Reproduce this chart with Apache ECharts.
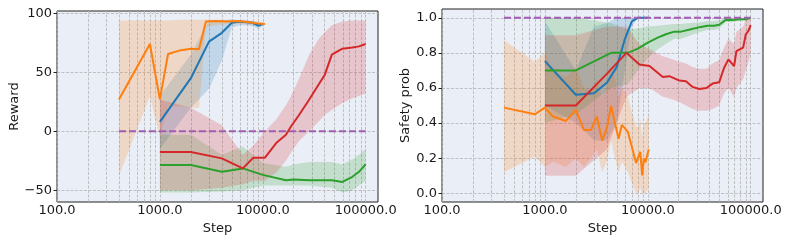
<!DOCTYPE html>
<html><head><meta charset="utf-8">
<script src="https://cdn.jsdelivr.net/npm/echarts@6/dist/echarts.min.js"></script>
<style>html,body{margin:0;padding:0;background:#fff}#c{width:793px;height:243px}</style>
</head><body><div id="c"></div>
<script>
// ---------- tick positions ----------
const xMajorTicks = [100, 1000, 10000, 100000];
const xMinorTicks = [200, 300, 400, 500, 600, 700, 800, 900,
  2000, 3000, 4000, 5000, 6000, 7000, 8000, 9000,
  20000, 30000, 40000, 50000, 60000, 70000, 80000, 90000];
const rewardTicks = [-50, 0, 50, 100];
const safetyTicks = [0, 0.2, 0.4, 0.6, 0.8, 1.0];

// ---------- Reward panel ----------
const stepsBlue = [1000, 2000, 3000, 4000, 5000, 6000, 7000, 8000, 9000, 10000];
const rewardBlue = [8, 45, 76, 83.5, 92, 93, 92.5, 92, 89.5, 91];
const rewardBlueLo = [-15, 20, 36, 60, 88, 90, 90, 89, 87, 89];
const rewardBlueHi = [30, 65, 94, 94, 95, 94, 94, 93.5, 92, 92];

const stepsOrangeR = [400, 800, 1000, 1200, 1600, 2000, 2400, 2800, 3500, 4500, 5500, 6500, 8000, 9000, 10500];
const rewardOrange = [27, 74, 27, 65.5, 68.8, 70, 69.6, 93, 93.5, 93, 93.5, 93, 92, 91.5, 91];
const rewardOrangeLo = [-38, 30, -5, 21, 21, 20, 20, 88, 90, 91, 91, 91, 90, 90, 90];
const rewardOrangeHi = [94, 94, 94, 94, 94.5, 94.5, 94.5, 94.5, 94.5, 94.5, 94, 94, 93.5, 93, 92];

const stepsGreenR = [1000, 2000, 4000, 6400, 10000, 16800, 20000, 28300, 47000, 59400, 74300, 86100, 100000];
const rewardGreen = [-28.7, -28.7, -34.4, -31.5, -37, -41.5, -41, -41.5, -41.5, -43, -38.6, -34.4, -28];
const rewardGreenLo = [-52, -52, -51, -50, -46, -46, -46, -46, -48, -52, -50, -46, -42];
const rewardGreenHi = [-3, -3, -20, -13, -27, -30, -28, -26, -26, -28, -24, -20, -15];

const stepsRedR = [1000, 2000, 4000, 6400, 8100, 10500, 13500, 16800, 18800, 22600, 28300, 34800, 40100, 46900, 59400, 74300, 86100, 100000];
const rewardRed = [-17.6, -17.6, -23, -31.5, -22.4, -22.4, -10, -3, 4, 14, 27, 39.5, 48, 65, 70, 71, 72, 74];
const rewardRedLo = [-50, -50, -48, -45, -42, -42, -35, -25, -18, -8, 0, 8, 14, 18, 24, 28, 30, 32];
const rewardRedHi = [27, 20, 5, -20, -12, 0, 10, 22, 30, 45, 65, 78, 84, 90, 93, 94, 94, 94];

const stepsThreshold = [400, 100000];
const rewardThreshold = [0, 0];

// ---------- Safety panel ----------
const safetyBlue = [0.753, 0.561, 0.57, 0.63, 0.72, 0.88, 0.98, 1.0, 1.0, 1.0];
const safetyBlueLo = [0.5, 0.4, 0.3, 0.3, 0.4, 0.7, 0.95, 1.0, 1.0, 1.0];
const safetyBlueHi = [0.98, 0.7, 0.95, 0.97, 1.0, 1.0, 1.0, 1.0, 1.0, 1.0];

const stepsOrangeS = [400, 800, 1000, 1200, 1600, 2000, 2400, 2800, 3200, 3600, 4000, 4400, 4800, 5200, 5600, 6000, 6400, 7100, 7700, 8000, 8450, 8830, 9150, 9500, 10230];
const safetyOrange = [0.488, 0.45, 0.488, 0.437, 0.412, 0.475, 0.36, 0.36, 0.437, 0.3, 0.37, 0.498, 0.4, 0.31, 0.39, 0.37, 0.35, 0.25, 0.172, 0.175, 0.236, 0.102, 0.198, 0.176, 0.25];
const safetyOrangeLo = [0.12, 0.21, 0.15, 0.18, 0.15, 0.2, 0.15, 0.2, 0.25, 0.12, 0.18, 0.3, 0.2, 0.12, 0.18, 0.15, 0.12, 0.05, 0.0, 0.0, 0.03, 0.0, 0.0, 0.0, 0.03];
const safetyOrangeHi = [0.87, 0.75, 0.8, 0.7, 0.66, 0.72, 0.6, 0.58, 0.65, 0.55, 0.6, 0.72, 0.65, 0.55, 0.6, 0.58, 0.55, 0.45, 0.38, 0.38, 0.42, 0.32, 0.4, 0.4, 0.45];

const stepsGreenS = [1000, 2000, 4400, 6400, 8000, 10000, 12500, 15000, 18100, 21000, 26300, 32800, 38100, 44200, 49400, 57300, 64000, 80000, 91400, 100000];
const safetyGreen = [0.7, 0.7, 0.8, 0.8, 0.824, 0.858, 0.887, 0.906, 0.921, 0.921, 0.935, 0.948, 0.954, 0.954, 0.96, 0.988, 0.988, 0.992, 0.992, 1.0];
const safetyGreenLo = [0.4, 0.45, 0.6, 0.62, 0.7, 0.77, 0.82, 0.85, 0.88, 0.88, 0.9, 0.92, 0.93, 0.93, 0.94, 0.975, 0.975, 0.985, 0.985, 0.995];
const safetyGreenHi = [1.0, 1.0, 0.97, 0.93, 0.94, 0.95, 0.955, 0.96, 0.965, 0.965, 0.97, 0.975, 0.98, 0.98, 0.985, 1.0, 1.0, 1.0, 1.0, 1.0];

const stepsRedS = [1000, 2000, 4000, 6200, 8300, 10400, 14000, 16200, 20300, 23500, 27300, 31600, 37200, 42600, 49400, 55200, 60800, 69000, 72700, 84500, 89700, 95100, 100000];
const safetyRed = [0.5, 0.5, 0.68, 0.8, 0.734, 0.725, 0.663, 0.667, 0.642, 0.638, 0.606, 0.594, 0.6, 0.625, 0.632, 0.715, 0.763, 0.724, 0.81, 0.83, 0.906, 0.925, 0.958];
const safetyRedLo = [0.1, 0.1, 0.25, 0.55, 0.6, 0.6, 0.55, 0.54, 0.52, 0.5, 0.48, 0.47, 0.47, 0.48, 0.5, 0.57, 0.6, 0.55, 0.6, 0.65, 0.7, 0.75, 0.8];
const safetyRedHi = [0.9, 0.9, 0.95, 0.95, 0.85, 0.82, 0.78, 0.77, 0.75, 0.74, 0.72, 0.71, 0.71, 0.74, 0.76, 0.83, 0.88, 0.85, 0.92, 0.95, 0.99, 1.0, 1.0];

const safetyThreshold = [1.0, 1.0];

// ---------- styling ----------
const C = { blue: '#1f77b4', orange: '#ff7f0e', green: '#2ca02c', red: '#d62728', purple: '#a15cb3' };
const FONT = 'DejaVu Sans';
const TXT = '#1a1a1a';

function pairs(xs, ys) { return xs.map((x, i) => [x, ys[i]]); }

function band(xs, lo, hi, color, gi) {
  return {
    type: 'custom', xAxisIndex: gi, yAxisIndex: gi, silent: true, z: 2,
    data: xs.map((x, i) => [x, lo[i], hi[i]]),
    encode: { x: 0, y: [1, 2] },
    renderItem: function (params, api) {
      if (params.dataIndex !== 0) return null;
      const top = xs.map((x, i) => api.coord([x, hi[i]]));
      const bot = xs.map((x, i) => api.coord([x, lo[i]])).reverse();
      return { type: 'polygon', shape: { points: top.concat(bot) },
        style: { fill: color, opacity: 0.2 } };
    }
  };
}
function line(xs, ys, color, gi, dashed) {
  return {
    type: 'line', xAxisIndex: gi, yAxisIndex: gi, data: pairs(xs, ys), symbol: 'none',
    silent: true, z: 3,
    lineStyle: { color, width: 2, type: dashed ? [7, 3] : 'solid' }
  };
}
function gridLines(gi, yTicks) {
  return {
    type: 'line', xAxisIndex: gi, yAxisIndex: gi, data: pairs(stepsThreshold, gi === 0 ? rewardThreshold : safetyThreshold),
    symbol: 'none', lineStyle: { opacity: 0 }, silent: true, z: 1,
    markLine: {
      silent: true, z: 1, symbol: ['none', 'none'], label: { show: false }, animation: false,
      lineStyle: { color: '#b4b4b4', type: [3, 1.5], width: 0.8 },
      data: xMajorTicks.concat(xMinorTicks).map(v => ({ xAxis: v })).concat(yTicks.map(v => ({ yAxis: v })))
    }
  };
}
function xAxis(gi) {
  return {
    type: 'log', logBase: 10, gridIndex: gi, min: 100, max: 131800,
    name: 'Step', nameLocation: 'middle', nameGap: 12,
    nameTextStyle: { fontFamily: FONT, fontSize: 13, color: TXT },
    axisLine: { show: false }, axisTick: { show: false }, splitLine: { show: false },
    axisLabel: { fontFamily: FONT, fontSize: 13, color: TXT, margin: 2, showMaxLabel: false,
      formatter: v => Math.round(v).toFixed(1) }
  };
}
function yAxis(gi, min, max, ticks, name, gap, fmt) {
  return {
    type: 'value', gridIndex: gi, min, max,
    name, nameLocation: 'middle', nameGap: gap,
    nameTextStyle: { fontFamily: FONT, fontSize: 13, color: TXT },
    axisLine: { show: false }, splitLine: { show: false },
    axisTick: { show: true, length: 3.5, lineStyle: { color: '#222', width: 1 }, customValues: ticks },
    axisLabel: { fontFamily: FONT, fontSize: 13, color: TXT, margin: 5, customValues: ticks, formatter: fmt }
  };
}

const chart = echarts.init(document.getElementById('c'), null, { renderer: 'canvas' });
chart.setOption({
  animation: false,
  backgroundColor: '#ffffff',
  grid: [
    { left: 57, right: 415, top: 11, bottom: 41, show: true, backgroundColor: '#eaeef6', borderColor: '#222', borderWidth: 1 },
    { left: 442, right: 30, top: 9, bottom: 41, show: true, backgroundColor: '#eaeef6', borderColor: '#222', borderWidth: 1 }
  ],
  xAxis: [xAxis(0), xAxis(1)],
  yAxis: [
    yAxis(0, -60, 102, rewardTicks, 'Reward', 32, v => (v < 0 ? '\u2212' + Math.abs(v) : String(v))),
    yAxis(1, -0.05, 1.05, safetyTicks, 'Safety prob', 30, v => v.toFixed(1))
  ],
  series: [
    gridLines(0, rewardTicks),
    gridLines(1, safetyTicks),
    band(stepsBlue, rewardBlueLo, rewardBlueHi, C.blue, 0),
    band(stepsOrangeR, rewardOrangeLo, rewardOrangeHi, C.orange, 0),
    band(stepsGreenR, rewardGreenLo, rewardGreenHi, C.green, 0),
    band(stepsRedR, rewardRedLo, rewardRedHi, C.red, 0),
    line(stepsBlue, rewardBlue, C.blue, 0),
    line(stepsOrangeR, rewardOrange, C.orange, 0),
    line(stepsGreenR, rewardGreen, C.green, 0),
    line(stepsRedR, rewardRed, C.red, 0),
    line(stepsThreshold, rewardThreshold, C.purple, 0, true),
    band(stepsBlue, safetyBlueLo, safetyBlueHi, C.blue, 1),
    band(stepsOrangeS, safetyOrangeLo, safetyOrangeHi, C.orange, 1),
    band(stepsGreenS, safetyGreenLo, safetyGreenHi, C.green, 1),
    band(stepsRedS, safetyRedLo, safetyRedHi, C.red, 1),
    line(stepsBlue, safetyBlue, C.blue, 1),
    line(stepsOrangeS, safetyOrange, C.orange, 1),
    line(stepsGreenS, safetyGreen, C.green, 1),
    line(stepsRedS, safetyRed, C.red, 1),
    line(stepsThreshold, safetyThreshold, C.purple, 1, true)
  ]
});
</script></body></html>
